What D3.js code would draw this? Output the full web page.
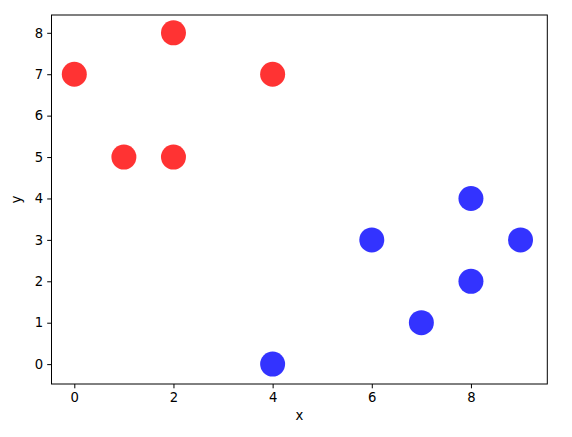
<!DOCTYPE html>
<html><head><meta charset="utf-8">
<script src="https://d3js.org/d3.v7.min.js"></script>
<style>body{margin:0;background:#fff}</style>
</head><body>
<script>
const redX = [0, 2, 4, 1, 2];
const redY = [7, 8, 7, 5, 5];
const blueX = [4, 6, 7, 8, 8, 9];
const blueY = [0, 3, 1, 4, 2, 3];
const xTicks = [0, 2, 4, 6, 8];
const yTicks = [0, 1, 2, 3, 4, 5, 6, 7, 8];

const W = 572, H = 437;
const L = 51.5, R = 547.3, T = 15, B = 384;
const svg = d3.select("body").append("svg").attr("width", W).attr("height", H);
const x = d3.scaleLinear().domain([-0.46, 9.54]).range([L, R]);
const y = d3.scaleLinear().domain([-0.48, 8.43]).range([B, T]);
const font = "DejaVu Sans, sans-serif";
const fs = 13.2;

const pts = [];
redX.forEach((v, i) => pts.push({x: v, y: redY[i], c: "red"}));
blueX.forEach((v, i) => pts.push({x: v, y: blueY[i], c: "blue"}));
svg.append("g").selectAll("circle").data(pts).join("circle")
  .attr("cx", d => x(d.x)).attr("cy", d => y(d.y)).attr("r", 12.5)
  .attr("fill", d => d.c).attr("fill-opacity", 0.8);

const xa = svg.append("g").attr("transform", `translate(0,${B})`)
  .call(d3.axisBottom(x).tickValues(xTicks).tickSize(4.3).tickPadding(4).tickFormat(d3.format("d")));
const ya = svg.append("g").attr("transform", `translate(${L},0)`)
  .call(d3.axisLeft(y).tickValues(yTicks).tickSize(4.3).tickPadding(4).tickFormat(d3.format("d")));
[xa, ya].forEach(a => {
  a.select(".domain").remove();
  a.selectAll("text").attr("font-family", font).attr("font-size", fs).attr("fill", "#000");
  a.selectAll("line").attr("stroke", "#000").attr("stroke-width", 1);
});
svg.append("rect").attr("x", L).attr("y", T).attr("width", R - L).attr("height", B - T)
  .attr("fill", "none").attr("stroke", "#000").attr("stroke-width", 1);

svg.append("text").attr("x", (L + R) / 2).attr("y", 420).attr("text-anchor", "middle")
  .attr("font-family", font).attr("font-size", fs).text("x");
svg.append("text").attr("transform", `translate(20.5,${(T + B) / 2}) rotate(-90)`).attr("text-anchor", "middle")
  .attr("font-family", font).attr("font-size", fs).text("y");
</script>
</body></html>
